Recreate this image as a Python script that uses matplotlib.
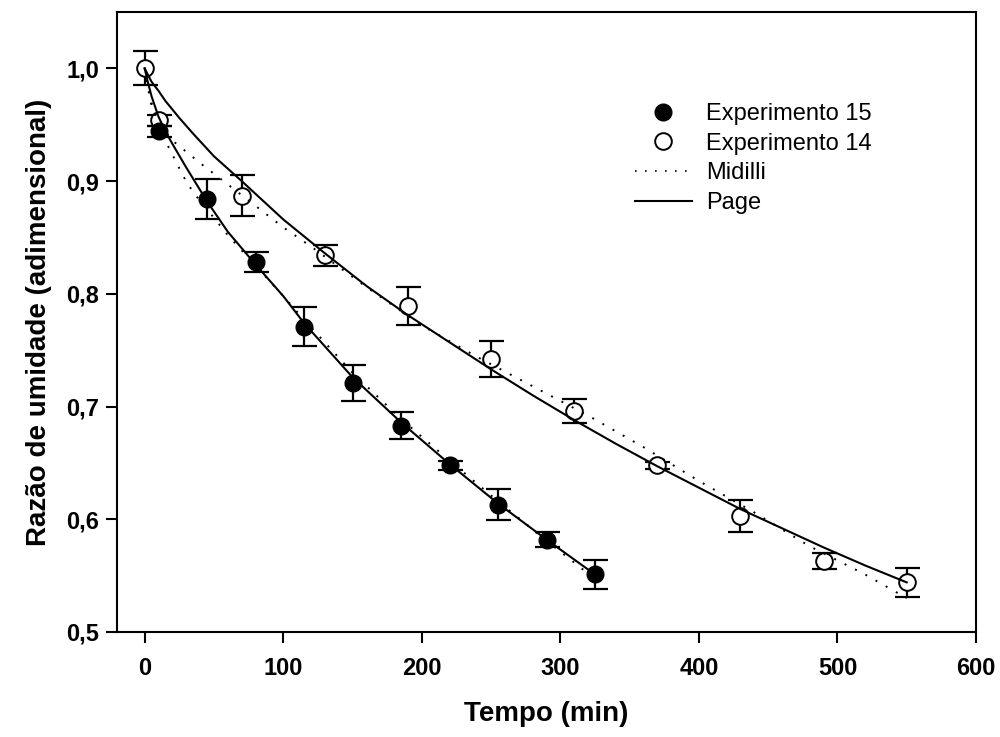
import matplotlib
matplotlib.use("Agg")
import matplotlib.pyplot as plt
from matplotlib.lines import Line2D

plt.rcParams["font.family"] = ["Liberation Sans", "DejaVu Sans"]

# measured points
t15 = [10, 45, 80, 115, 150, 185, 220, 255, 290, 325]
mr15 = [0.944, 0.884, 0.828, 0.771, 0.721, 0.683, 0.648, 0.613, 0.582, 0.551]
err15 = [0.005, 0.018, 0.009, 0.017, 0.016, 0.012, 0.004, 0.014, 0.007, 0.013]

t14 = [0, 10, 70, 130, 190, 250, 310, 370, 430, 490, 550]
mr14 = [1.0, 0.954, 0.887, 0.834, 0.789, 0.742, 0.696, 0.648, 0.603, 0.563, 0.544]
err14 = [0.015, 0.005, 0.018, 0.009, 0.017, 0.016, 0.011, 0.003, 0.014, 0.007, 0.013]

# model curves
page15_t = [0, 2, 5, 10, 15, 20, 30, 45, 60, 80, 100, 115, 150, 185, 220, 255, 290, 325]
page15_y = [1.0, 0.989, 0.975, 0.957, 0.944, 0.933, 0.912, 0.882, 0.855, 0.826,
            0.798, 0.774, 0.726, 0.686, 0.649, 0.614, 0.582, 0.551]
midilli15_t = [0, 4, 8, 14, 21, 28, 35, 45, 60, 80, 100, 115, 150, 185, 220, 255, 290, 325]
midilli15_y = [1.0, 0.971, 0.955, 0.938, 0.921, 0.904, 0.890, 0.875, 0.852, 0.825,
               0.798, 0.777, 0.730, 0.689, 0.652, 0.616, 0.581, 0.547]

page14_t = [0, 2, 5, 10, 15, 25, 35, 50, 70, 100, 130, 160, 190, 220, 250, 280,
            310, 340, 370, 400, 430, 460, 490, 520, 550]
page14_y = [1.0, 0.995, 0.988, 0.980, 0.971, 0.956, 0.942, 0.922, 0.900, 0.866,
            0.836, 0.807, 0.781, 0.757, 0.733, 0.710, 0.688, 0.667, 0.647, 0.628,
            0.609, 0.592, 0.575, 0.559, 0.544]
midilli14_t = [0, 5, 10, 20, 40, 60, 80, 100, 120, 160, 200, 240, 280, 320, 360,
               400, 440, 480, 520, 550]
midilli14_y = [1.0, 0.969, 0.952, 0.936, 0.916, 0.897, 0.878, 0.859, 0.842, 0.806,
               0.772, 0.744, 0.718, 0.692, 0.664, 0.634, 0.606, 0.576, 0.551, 0.530]

x_ticks = [0, 100, 200, 300, 400, 500, 600]
y_ticks = [0.5, 0.6, 0.7, 0.8, 0.9, 1.0]
y_ticklabels = ["0,5", "0,6", "0,7", "0,8", "0,9", "1,0"]

fig = plt.figure(figsize=(10, 7.37), dpi=100)
ax = fig.add_axes([0.117, 0.1425, 0.859, 0.8412])

dot = (0, (1, 5))
ax.plot(page15_t, page15_y, "k-", lw=1.5, zorder=4)
ax.plot(page14_t, page14_y, "k-", lw=1.5, zorder=4)
ax.plot(midilli15_t, midilli15_y, color="k", ls=dot, lw=1.4, zorder=4)
ax.plot(midilli14_t, midilli14_y, color="k", ls=dot, lw=1.4, zorder=4)

ax.errorbar(t14, mr14, yerr=err14, fmt="none", ecolor="k", elinewidth=1.6,
            capsize=9, capthick=1.6, zorder=2)
ax.errorbar(t15, mr15, yerr=err15, fmt="none", ecolor="k", elinewidth=1.6,
            capsize=9, capthick=1.6, zorder=2)
ax.plot(t14, mr14, "o", ms=12, mfc="white", mec="k", mew=1.4, zorder=3)
ax.plot(t15, mr15, "o", ms=12, mfc="k", mec="k", zorder=3)

ax.set_xlim(-20, 600)
ax.set_ylim(0.5, 1.05)
ax.set_xticks(x_ticks)
ax.set_xticklabels([str(v) for v in x_ticks])
ax.set_yticks(y_ticks)
ax.set_yticklabels(y_ticklabels)
ax.tick_params(direction="out", length=8, width=1.5, labelsize=17,
               top=False, right=False)
ax.tick_params(axis="x", pad=10)
ax.tick_params(axis="y", pad=5)
for lab in ax.get_xticklabels() + ax.get_yticklabels():
    lab.set_fontweight("bold")
for sp in ax.spines.values():
    sp.set_linewidth(1.5)

ax.set_xlabel("Tempo (min)", fontsize=20, fontweight="bold", labelpad=15)
ax.set_ylabel("Razão de umidade (adimensional)", fontsize=20, fontweight="bold",
              labelpad=10)

handles = [
    Line2D([], [], ls="none", marker="o", ms=12, mfc="k", mec="k"),
    Line2D([], [], ls="none", marker="o", ms=12, mfc="white", mec="k", mew=1.4),
    Line2D([], [], color="k", ls=dot, lw=1.2),
    Line2D([], [], color="k", lw=1.5),
]
labels = ["Experimento 15", "Experimento 14", "Midilli", "Page"]
ax.legend(handles, labels, loc="upper left", bbox_to_anchor=(0.603, 0.853),
          frameon=False, fontsize=17, handlelength=2.4, handletextpad=0.6,
          labelspacing=0.32, borderpad=0, borderaxespad=0)

fig.savefig("out.png", dpi=100)
